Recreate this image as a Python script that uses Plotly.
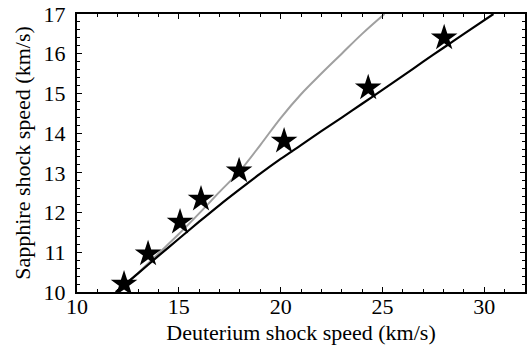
import plotly.graph_objects as go

# Experimental data (stars)
star_x = [12.31, 13.49, 15.06, 16.09, 17.96, 20.17, 24.30, 28.03]
star_y = [10.20, 10.96, 11.76, 12.34, 13.05, 13.80, 15.14, 16.40]

# Black model curve
black_x = [11.9, 13.0, 14.0, 15.0, 16.0, 17.0, 18.0, 19.0, 20.0, 21.0, 22.0,
           23.0, 24.0, 25.0, 26.0, 27.0, 28.0, 29.0, 30.45]
black_y = [10.0, 10.47, 10.91, 11.34, 11.77, 12.19, 12.59, 12.98, 13.35, 13.7, 14.05,
           14.39, 14.74, 15.09, 15.44, 15.8, 16.15, 16.5, 17.0]

# Gray model curve
gray_x = [12.0, 13.0, 14.0, 15.0, 16.0, 17.0, 18.0, 19.0, 20.0, 21.0, 22.0, 23.0, 24.0, 25.1]
gray_y = [10.0, 10.48, 10.97, 11.46, 11.98, 12.52, 13.05, 13.7, 14.38, 14.98, 15.5, 16.0, 16.5, 17.0]

x_ticks = [10, 15, 20, 25, 30]
y_ticks = [10, 11, 12, 13, 14, 15, 16, 17]

fig = go.Figure()
fig.add_trace(go.Scatter(x=gray_x, y=gray_y, mode="lines",
                         line=dict(color="#a0a0a0", width=2, shape="spline"),
                         showlegend=False))
fig.add_trace(go.Scatter(x=black_x, y=black_y, mode="lines",
                         line=dict(color="#000000", width=2.2, shape="spline", smoothing=0.8),
                         showlegend=False))
fig.add_trace(go.Scatter(x=star_x, y=star_y, mode="markers",
                         marker=dict(symbol="star", size=20, color="#000000",
                                     line=dict(width=0)),
                         showlegend=False))

font_family = "Liberation Serif, Times New Roman, serif"
axis_common = dict(
    showline=True, linecolor="black", linewidth=2, mirror="ticks",
    ticks="inside", ticklen=5, tickwidth=1.2, tickcolor="black",
    showgrid=False, zeroline=False, automargin=False,
    tickfont=dict(family=font_family, size=22, color="black"),
)

fig.update_xaxes(range=[10, 32], tickvals=x_ticks, ticklabelstandoff=-6,
                 title=dict(text="Deuterium shock speed (km/s)",
                            font=dict(family=font_family, size=22, color="black"),
                            standoff=6),
                 minor=dict(dtick=1, ticks="inside", ticklen=3, tickcolor="black", tickwidth=1),
                 **axis_common)
fig.update_yaxes(range=[10, 17], tickvals=y_ticks, ticklabelstandoff=5,
                 title=dict(text="Sapphire shock speed (km/s)",
                            font=dict(family=font_family, size=22, color="black"),
                            standoff=7),
                 minor=dict(dtick=0.2, ticks="inside", ticklen=3, tickcolor="black", tickwidth=1),
                 **axis_common)

fig.update_layout(width=532, height=351,
                  margin=dict(l=77, r=7, t=14, b=59),
                  font=dict(family=font_family),
                  paper_bgcolor="white", plot_bgcolor="white")

fig.write_html("out.html", config={"displayModeBar": False},
               post_script="document.body.style.margin='0';")
